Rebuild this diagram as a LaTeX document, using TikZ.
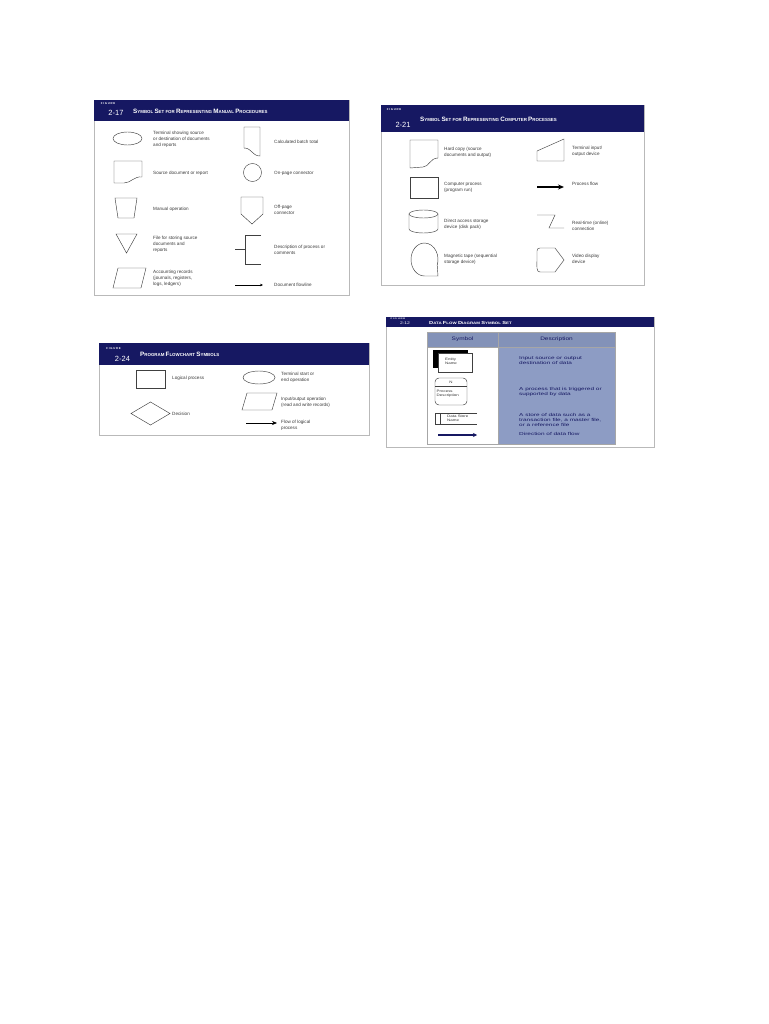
\documentclass[tikz,border=0pt]{standalone}
\usepackage{fontspec}
\setmainfont{Liberation Sans}
\newfontfamily\widefont[FakeStretch=1.3]{Liberation Sans}
\newfontfamily\dfdwide[FakeStretch=1.5]{Liberation Sans}
\usetikzlibrary{positioning, arrows.meta}
\definecolor{navy}{RGB}{22,24,98}
\definecolor{tablehead}{RGB}{131,146,184}
\definecolor{tablebody}{RGB}{141,156,196}
\definecolor{labelgray}{RGB}{60,60,60}
\newcommand{\scfirst}[1]{{\fontsize{6.3}{6}\selectfont #1}}
\newcommand{\dfdfirst}[1]{{\fontsize{4.4}{4}\selectfont #1}}

\begin{document}
\begin{tikzpicture}[x=1pt, y=-1pt,
  frame/.style={draw=gray!55, line width=0.8pt, fill=white, anchor=north west, inner sep=0pt},
  headbar/.style={fill=navy, draw=none, anchor=north west, inner sep=0pt},
  figword/.style={text=white, font=\bfseries\fontsize{2.8}{3}\selectfont, inner sep=0pt},
  fignum/.style={text=white, font=\fontsize{7.5}{8}\selectfont, inner sep=0pt},
  figtitle/.style={text=white, anchor=west, font=\bfseries\fontsize{4.4}{6}\selectfont, inner sep=0pt},
  sym/.style={draw=black!75, line width=0.45pt},
  lbl/.style={anchor=west, align=left, text=labelgray, font=\fontsize{4.6}{6}\selectfont, inner sep=0pt},
  dfdlbl/.style={anchor=west, align=left, text=navy, font=\dfdwide\fontsize{4.3}{5.2}\selectfont, inner sep=0pt},
  tiny/.style={align=left, text=black!80, font=\widefont\fontsize{3.4}{3.8}\selectfont, inner sep=0pt},
  flow/.style={draw=black, line width=0.6pt, -{Stealth[length=3pt, width=2.6pt]}}
]
% page
\fill[white] (0,0) rectangle (768,1024);
\useasboundingbox (0,0) rectangle (768,1024);

% ---------------- Figure 2-17 ----------------
\node[frame, minimum width=255pt, minimum height=195pt] (manual) at (94,100) {};
\node[headbar, minimum width=255pt, minimum height=21pt] (manualhead) at (manual.north west) {};
\node[figword] (manualword) at (108,104) {F I G U R E};
\node[fignum] (manualnum) at (116,113) {2-17};
\node[figtitle] (manualtitle) at (133,111) {\scfirst{S}YMBOL \scfirst{S}ET FOR \scfirst{R}EPRESENTING \scfirst{M}ANUAL \scfirst{P}ROCEDURES};

% left column
\draw[sym] (127.5,138.5) ellipse [x radius=14.5, y radius=6.5];
\node[lbl] (terminal) at (153,139) {Terminal showing source\\or destination of documents\\and reports};
\draw[sym] (114,161) -- (142,161) -- (142,177) .. controls (134,176) and (131,183) .. (124,183) -- (114,183) -- cycle;
\node[lbl] (sourcedoc) at (153,173) {Source document or report};
\draw[sym] (115,198) -- (137,198) -- (134,218) -- (118,218) -- cycle;
\node[lbl] (manualop) at (153,209) {Manual operation};
\draw[sym] (116,234) -- (137,234) -- (126.5,253) -- cycle;
\node[lbl] (filestore) at (153,244) {File for storing source\\documents and\\reports};
\draw[sym] (118,268) -- (146,268) -- (141,288) -- (113,288) -- cycle;
\node[lbl] (accounting) at (153,278) {Accounting records\\(journals, registers,\\logs, ledgers)};

% right column
\draw[sym] (244,127) -- (260,127) -- (260,156) .. controls (252,156) and (252,148) .. (244,148) -- cycle;
\node[lbl] (batch) at (274,142) {Calculated batch total};
\draw[sym] (252.5,172.5) circle [radius=9];
\node[lbl] (onpage) at (274,173) {On-page connector};
\draw[sym] (241,197) -- (263,197) -- (263,214) -- (252,224) -- (241,214) -- cycle;
\node[lbl] (offpage) at (274,210) {Off-page\\connector};
\draw[sym] (235,249) -- (245,249);
\draw[sym] (261,235) -- (245,235) -- (245,264) -- (261,264);
\node[lbl] (comments) at (274,250) {Description of process or\\comments};
\coordinate (docflowA) at (235,285);
\coordinate (docflowB) at (263,285);
\draw[flow] (docflowA) -- (docflowB);
\node[lbl] (docflow) at (274,285) {Document flowline};

% ---------------- Figure 2-21 ----------------
\node[frame, minimum width=263pt, minimum height=180pt] (computer) at (381,105) {};
\node[headbar, minimum width=263pt, minimum height=27pt] (computerhead) at (computer.north west) {};
\node[figword] (computerword) at (394,110) {F I G U R E};
\node[fignum] (computernum) at (403,124.5) {2-21};
\node[figtitle] (computertitle) at (420,119) {\scfirst{S}YMBOL \scfirst{S}ET FOR \scfirst{R}EPRESENTING \scfirst{C}OMPUTER \scfirst{P}ROCESSES};

% left column
\draw[sym] (410,140) -- (438,140) -- (438,158) .. controls (430,158) and (429,167) .. (423,167) -- (410,168) -- cycle;
\node[lbl] (hardcopy) at (444,152) {Hard copy (source\\documents and output)};
\draw[sym] (410,177) rectangle (438,198);
\node[lbl] (process) at (444,187) {Computer process\\(program run)};
\draw[sym] (423.5,214) ellipse [x radius=14.5, y radius=4];
\draw[sym] (409,214) -- (409,229) arc [start angle=180, end angle=0, x radius=14.5, y radius=4] -- (438,214);
\node[lbl] (disk) at (444,224) {Direct access storage\\device (disk pack)};
\draw[sym] (438,276) -- (424.5,276) arc [start angle=90, end angle=380, x radius=13.5, y radius=16.5] -- cycle;
\node[lbl] (tape) at (444,259) {Magnetic tape (sequential\\storage device)};

% right column
\draw[sym] (537,161) -- (537,151) -- (564,139) -- (564,161) -- cycle;
\node[lbl] (terminalio) at (572,151) {Terminal input/\\output device};
\coordinate (procflowA) at (537,187);
\coordinate (procflowB) at (564,187);
\draw[draw=black, line width=1.1pt, -{Stealth[length=6pt, width=5pt]}] (procflowA) -- (procflowB);
\node[lbl] (processflow) at (572,184) {Process flow};
\draw[sym] (537,215) -- (555,215) -- (549,228) -- (564,228);
\node[lbl] (realtime) at (572,226) {Real-time (online)\\connection};
\draw[sym] (540,248) -- (555,248) -- (564,260) -- (555,272) -- (540,272) .. controls (536,272) and (537,266) .. (537,260) -- (537,251) .. controls (537,249) and (538,248) .. (540,248) -- cycle;
\node[lbl] (video) at (572,259) {Video display\\device};

% ---------------- Figure 2-24 ----------------
\node[frame, minimum width=270pt, minimum height=92pt] (program) at (99,343) {};
\node[headbar, minimum width=270pt, minimum height=22pt] (programhead) at (program.north west) {};
\node[figword] (programword) at (113.5,349) {F I G U R E};
\node[fignum] (programnum) at (122.5,359) {2-24};
\node[figtitle] (programtitle) at (140,354) {\scfirst{P}ROGRAM \scfirst{F}LOWCHART \scfirst{S}YMBOLS};

\draw[sym] (136,370) rectangle (165,388);
\node[lbl] (logical) at (172,378) {Logical process};
\draw[sym] (131,413.5) -- (150.5,402) -- (170,413.5) -- (150.5,425) -- cycle;
\node[lbl] (decision) at (172,414) {Decision};
\draw[sym] (259,377.5) ellipse [x radius=16, y radius=6.5];
\node[lbl] (startend) at (281,377) {Terminal start or\\end operation};
\draw[sym] (247,393) -- (277,393) -- (272,410) -- (242,410) -- cycle;
\node[lbl] (inout) at (281,402) {Input/output operation\\(read and write records)};
\coordinate (logflowA) at (246,423);
\coordinate (logflowB) at (277,423);
\draw[draw=black, line width=0.6pt, -{Stealth[length=5pt, width=4pt]}] (logflowA) -- (logflowB);
\node[lbl] (logicflow) at (281,425) {Flow of logical\\process};

% ---------------- Figure 2-12 ----------------
\node[frame, minimum width=268pt, minimum height=130pt] (dfd) at (386,317) {};
\node[headbar, minimum width=268pt, minimum height=10pt] (dfdhead) at (dfd.north west) {};
\node[figword, font=\widefont\bfseries\fontsize{2.2}{2.4}\selectfont] (dfdword) at (398,318.8) {F I G U R E};
\node[fignum, font=\widefont\fontsize{3.8}{4}\selectfont] (dfdnum) at (405,323.2) {2-12};
\node[figtitle, font=\widefont\bfseries\fontsize{3.4}{4}\selectfont] (dfdtitle) at (429,322.5) {\dfdfirst{D}ATA \dfdfirst{F}LOW \dfdfirst{D}IAGRAM \dfdfirst{S}YMBOL \dfdfirst{S}ET};

% table
\fill[tablehead] (427,332) rectangle (615,347);
\fill[tablebody] (498,347) rectangle (615,444);
\draw[gray!70, line width=0.5pt] (427,332) rectangle (615,444);
\draw[gray!70, line width=0.5pt] (498,332) -- (498,444);
\draw[gray!70, line width=0.5pt] (427,347) -- (615,347);
\node[text=navy, font=\widefont\fontsize{5}{5}\selectfont] (symhead) at (462.5,339.5) {Symbol};
\node[text=navy, font=\widefont\fontsize{5}{5}\selectfont] (deschead) at (556.5,339.5) {Description};

% symbols
\fill[black] (433,350) rectangle (468,368);
\draw[sym, fill=white] (438,353) rectangle (472,372);
\node[tiny] (entity) at (451,361) {Entity\\Name};
\draw[sym, rounded corners=4pt] (435,378) rectangle (467,405);
\draw[sym] (435,386) -- (467,386);
\node[tiny] (procnum) at (451,382) {N};
\node[tiny, anchor=west] (procdesc) at (436.5,393.5) {Process\\Description};
\draw[sym] (477,413) -- (435,413) -- (435,424) -- (477,424);
\draw[sym] (440,413) -- (440,424);
\node[tiny, anchor=west] (store) at (447,418.5) {Data Store\\Name};
\coordinate (dfflowA) at (438,435);
\coordinate (dfflowB) at (477,435);
\draw[draw=navy, line width=1.4pt, -{Stealth[length=4pt, width=4pt]}] (dfflowA) -- (dfflowB);

% descriptions
\node[dfdlbl] (entitydesc) at (519,360.3) {Input source or output\\destination of data};
\node[dfdlbl] (procdescr) at (519,392) {A process that is triggered or\\supported by data};
\node[dfdlbl] (storedesc) at (519,420) {A store of data such as a\\transaction file, a master file,\\or a reference file};
\node[dfdlbl] (flowdesc) at (519,433.7) {Direction of data flow};

\end{tikzpicture}
\end{document}
